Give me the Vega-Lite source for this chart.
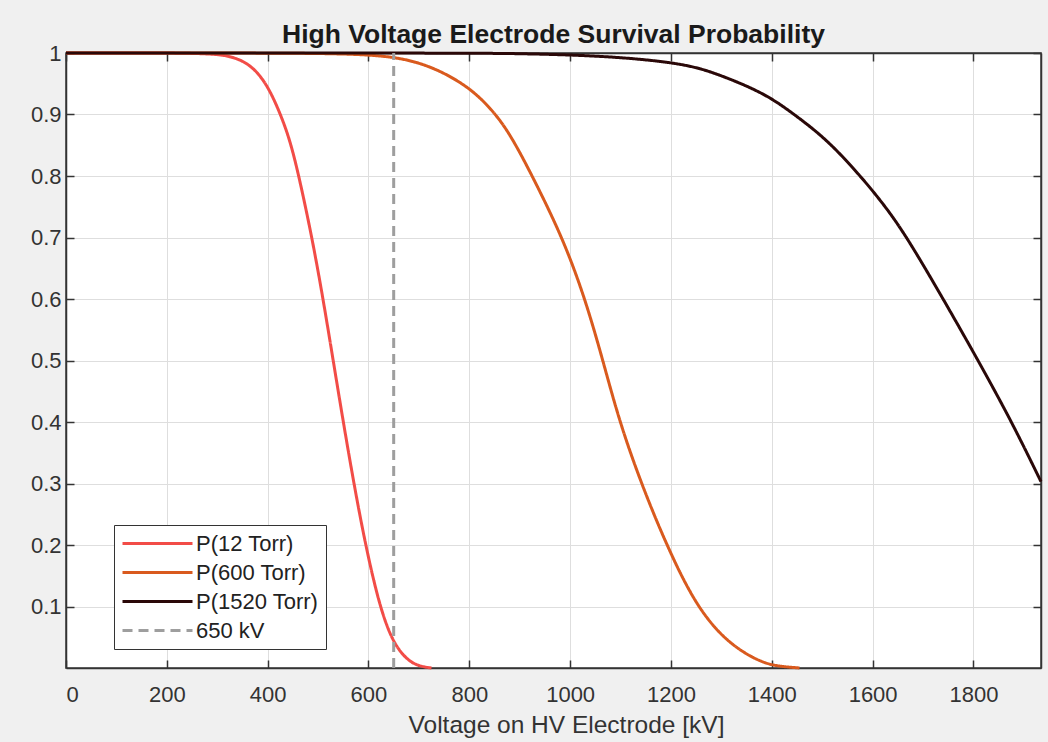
{
  "$schema": "https://vega.github.io/schema/vega-lite/v6.json",
  "width": 975,
  "height": 615,
  "autosize": {"type": "none"},
  "padding": {"left": 66, "top": 53, "right": 7, "bottom": 74},
  "background": "#f0f0f0",
  "title": {"text": "High Voltage Electrode Survival Probability", "fontSize": 26.5, "fontWeight": "bold", "font": "Liberation Sans", "color": "#1a1a1a", "offset": -6, "anchor": "middle"},
  "config": {"view": {"fill": "white", "stroke": "#3a3a3a", "strokeWidth": 1.5}, "font": "Liberation Sans"},
  "data": {"values": [
    {"series": "P(12 Torr)", "v": 0, "p": 1},
    {"series": "P(12 Torr)", "v": 100, "p": 1},
    {"series": "P(12 Torr)", "v": 200, "p": 1},
    {"series": "P(12 Torr)", "v": 250, "p": 0.9995},
    {"series": "P(12 Torr)", "v": 300, "p": 0.998},
    {"series": "P(12 Torr)", "v": 330, "p": 0.994},
    {"series": "P(12 Torr)", "v": 365, "p": 0.982},
    {"series": "P(12 Torr)", "v": 398, "p": 0.951},
    {"series": "P(12 Torr)", "v": 426, "p": 0.9},
    {"series": "P(12 Torr)", "v": 445, "p": 0.856},
    {"series": "P(12 Torr)", "v": 462, "p": 0.8},
    {"series": "P(12 Torr)", "v": 488, "p": 0.7},
    {"series": "P(12 Torr)", "v": 510, "p": 0.6},
    {"series": "P(12 Torr)", "v": 530, "p": 0.5},
    {"series": "P(12 Torr)", "v": 550, "p": 0.4},
    {"series": "P(12 Torr)", "v": 571, "p": 0.3},
    {"series": "P(12 Torr)", "v": 594, "p": 0.2},
    {"series": "P(12 Torr)", "v": 622, "p": 0.1},
    {"series": "P(12 Torr)", "v": 649, "p": 0.04},
    {"series": "P(12 Torr)", "v": 678, "p": 0.012},
    {"series": "P(12 Torr)", "v": 700, "p": 0.003},
    {"series": "P(12 Torr)", "v": 725, "p": 0},
    {"series": "P(600 Torr)", "v": 0, "p": 1},
    {"series": "P(600 Torr)", "v": 400, "p": 1},
    {"series": "P(600 Torr)", "v": 550, "p": 0.999},
    {"series": "P(600 Torr)", "v": 648, "p": 0.995},
    {"series": "P(600 Torr)", "v": 722, "p": 0.98},
    {"series": "P(600 Torr)", "v": 801, "p": 0.945},
    {"series": "P(600 Torr)", "v": 854, "p": 0.9},
    {"series": "P(600 Torr)", "v": 887, "p": 0.859},
    {"series": "P(600 Torr)", "v": 925, "p": 0.8},
    {"series": "P(600 Torr)", "v": 985, "p": 0.7},
    {"series": "P(600 Torr)", "v": 1030, "p": 0.6},
    {"series": "P(600 Torr)", "v": 1065, "p": 0.5},
    {"series": "P(600 Torr)", "v": 1098, "p": 0.4},
    {"series": "P(600 Torr)", "v": 1141, "p": 0.3},
    {"series": "P(600 Torr)", "v": 1191, "p": 0.2},
    {"series": "P(600 Torr)", "v": 1250, "p": 0.1},
    {"series": "P(600 Torr)", "v": 1313, "p": 0.04},
    {"series": "P(600 Torr)", "v": 1376, "p": 0.01},
    {"series": "P(600 Torr)", "v": 1410, "p": 0.003},
    {"series": "P(600 Torr)", "v": 1455, "p": 0},
    {"series": "P(1520 Torr)", "v": 0, "p": 1},
    {"series": "P(1520 Torr)", "v": 800, "p": 1},
    {"series": "P(1520 Torr)", "v": 900, "p": 0.999},
    {"series": "P(1520 Torr)", "v": 1000, "p": 0.997},
    {"series": "P(1520 Torr)", "v": 1100, "p": 0.993},
    {"series": "P(1520 Torr)", "v": 1200, "p": 0.985},
    {"series": "P(1520 Torr)", "v": 1260, "p": 0.975},
    {"series": "P(1520 Torr)", "v": 1310, "p": 0.96},
    {"series": "P(1520 Torr)", "v": 1360, "p": 0.943},
    {"series": "P(1520 Torr)", "v": 1402, "p": 0.925},
    {"series": "P(1520 Torr)", "v": 1445, "p": 0.9},
    {"series": "P(1520 Torr)", "v": 1510, "p": 0.859},
    {"series": "P(1520 Torr)", "v": 1576, "p": 0.8},
    {"series": "P(1520 Torr)", "v": 1624, "p": 0.752},
    {"series": "P(1520 Torr)", "v": 1667, "p": 0.702},
    {"series": "P(1520 Torr)", "v": 1738, "p": 0.603},
    {"series": "P(1520 Torr)", "v": 1806, "p": 0.505},
    {"series": "P(1520 Torr)", "v": 1875, "p": 0.402},
    {"series": "P(1520 Torr)", "v": 1934, "p": 0.303},
    {"series": "650 kV", "v": 650, "p": 0},
    {"series": "650 kV", "v": 650, "p": 1}
  ]},
  "layer": [
    {
      "mark": {"type": "line", "interpolate": "basis"},
      "encoding": {
        "x": {"field": "v", "type": "quantitative", "scale": {"domain": [0, 1934], "nice": false, "zero": false},
          "axis": {"orient": "bottom", "values": [0, 200, 400, 600, 800, 1000, 1200, 1400, 1600, 1800], "format": "d",
            "grid": true, "gridColor": "#dedede", "gridWidth": 1, "tickSize": -8, "tickColor": "#333", "tickWidth": 1.5,
            "domainColor": "#333", "domainWidth": 1.5, "labelFontSize": 22, "labelColor": "#333", "labelPadding": 24,
            "title": "Voltage on HV Electrode [kV]", "titleFontSize": 24.5, "titleFontWeight": "normal", "titleColor": "#333", "titlePadding": 8, "titleX": 500}},
        "y": {"field": "p", "type": "quantitative", "scale": {"domain": [0, 1], "nice": false, "zero": false},
          "axis": {"orient": "left", "values": [0.1, 0.2, 0.3, 0.4, 0.5, 0.6, 0.7, 0.8, 0.9, 1], "format": "~g",
            "grid": true, "gridColor": "#dedede", "gridWidth": 1, "tickSize": -8, "tickColor": "#333", "tickWidth": 1.5,
            "domainColor": "#333", "domainWidth": 1.5, "labelFontSize": 22, "labelColor": "#333", "labelPadding": 13, "title": null}},
        "color": {"field": "series", "type": "nominal",
          "scale": {"domain": ["P(12 Torr)", "P(600 Torr)", "P(1520 Torr)", "650 kV"], "range": ["#f24c47", "#d95a1e", "#2a0808", "#9e9e9e"]},
          "legend": {"orient": "none", "legendX": 48, "legendY": 472, "title": null, "symbolType": "M-1,0H6", "symbolSize": 400,
            "labelFontSize": 22, "labelColor": "#222", "labelOffset": 52, "padding": 7, "rowPadding": 6,
            "strokeColor": "#333", "fillColor": "white"}},
        "strokeDash": {"field": "series", "type": "nominal",
          "scale": {"domain": ["P(12 Torr)", "P(600 Torr)", "P(1520 Torr)", "650 kV"], "range": [[1, 0], [1, 0], [1, 0], [10, 6]]},
          "legend": {"orient": "none", "legendX": 48, "legendY": 472, "title": null, "symbolType": "M-1,0H6", "symbolSize": 400,
            "labelFontSize": 22, "labelColor": "#222", "labelOffset": 52, "padding": 7, "rowPadding": 6,
            "strokeColor": "#333", "fillColor": "white"}},
        "strokeWidth": {"field": "series", "type": "nominal",
          "scale": {"domain": ["P(12 Torr)", "P(600 Torr)", "P(1520 Torr)", "650 kV"], "range": [3, 3, 3, 1.6]},
          "legend": {"orient": "none", "legendX": 48, "legendY": 472, "title": null, "symbolType": "M-1,0H6", "symbolSize": 400,
            "labelFontSize": 22, "labelColor": "#222", "labelOffset": 52, "padding": 7, "rowPadding": 6,
            "strokeColor": "#333", "fillColor": "white"}}
      }
    },
    {
      "mark": {"type": "line", "opacity": 0},
      "encoding": {
        "x": {"field": "v", "type": "quantitative", "scale": {"domain": [0, 1934], "nice": false, "zero": false},
          "axis": {"orient": "top", "values": [0, 200, 400, 600, 800, 1000, 1200, 1400, 1600, 1800], "labels": false, "grid": false,
            "tickSize": -8, "tickColor": "#333", "tickWidth": 1.5, "domainColor": "#333", "domainWidth": 1.5, "title": null}},
        "y": {"field": "p", "type": "quantitative", "scale": {"domain": [0, 1], "nice": false, "zero": false},
          "axis": {"orient": "right", "values": [0.1, 0.2, 0.3, 0.4, 0.5, 0.6, 0.7, 0.8, 0.9, 1], "labels": false, "grid": false,
            "tickSize": -8, "tickColor": "#333", "tickWidth": 1.5, "domainColor": "#333", "domainWidth": 1.5, "title": null}}
      }
    }
  ],
  "resolve": {"axis": {"x": "independent", "y": "independent"}}
}
